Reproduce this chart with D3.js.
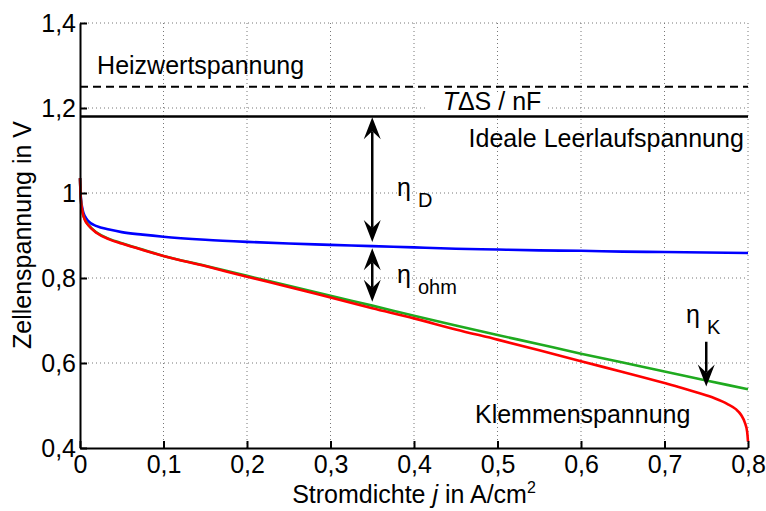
<!DOCTYPE html>
<html>
<head>
<meta charset="utf-8">
<script src="https://cdn.jsdelivr.net/npm/d3@7"></script>
<style>
  body { margin: 0; background: #fff; }
  text { font-family: "Liberation Sans", Arial, Helvetica, sans-serif; }
</style>
</head>
<body>
<script>
// Polarisation curve of a fuel cell

// current density grid (A/cm2) shared by the blue and green curves
var currentDensity = [0, 0.001, 0.003, 0.006, 0.01, 0.02, 0.035, 0.05, 0.075, 0.1, 0.15, 0.2,
    0.25, 0.3, 0.35, 0.4, 0.45, 0.5, 0.55, 0.6, 0.65, 0.7, 0.75, 0.8];

// after activation losses (blue)
var voltageActivation = [1.035, 0.99, 0.962, 0.945, 0.934, 0.922, 0.914, 0.908, 0.902, 0.897, 0.890, 0.885,
    0.881, 0.878, 0.875, 0.872, 0.869, 0.867, 0.865, 0.864, 0.862, 0.861, 0.860, 0.859];

// after ohmic losses (green)
var voltageOhmic = [1.035, 0.985, 0.955, 0.937, 0.925, 0.907, 0.892, 0.882, 0.867, 0.852, 0.829, 0.805,
    0.782, 0.758, 0.735, 0.711, 0.688, 0.666, 0.644, 0.622, 0.601, 0.580, 0.559, 0.538];

// terminal voltage (red), denser near the limiting current
var currentDensityTerminal = [0, 0.001, 0.003, 0.006, 0.01, 0.02, 0.035, 0.05, 0.075, 0.1, 0.15, 0.2,
    0.25, 0.3, 0.35, 0.4, 0.45, 0.5, 0.55, 0.6, 0.65, 0.7, 0.72, 0.74, 0.76, 0.775, 0.785, 0.792, 0.796, 0.799, 0.8];
var voltageTerminal = [1.035, 0.985, 0.955, 0.936, 0.924, 0.906, 0.891, 0.881, 0.866, 0.852, 0.828, 0.803,
    0.779, 0.754, 0.729, 0.705, 0.679, 0.655, 0.630, 0.604, 0.579, 0.553, 0.542, 0.530, 0.517, 0.504, 0.492, 0.477, 0.461, 0.438, 0.415];

// horizontal reference voltages
var heatingValueVoltage = 1.25;
var idealVoltage = 1.18;

// overvoltage arrows
var arrowCurrent = [0.35, 0.35, 0.75];
var arrowTop = [1.178, 0.87, 0.65];
var arrowBottom = [0.885, 0.744, 0.545];
var arrowBothHeads = [true, true, false];

// ticks
var xTicks = [0, 0.1, 0.2, 0.3, 0.4, 0.5, 0.6, 0.7, 0.8];
var xTickLabels = ["0", "0,1", "0,2", "0,3", "0,4", "0,5", "0,6", "0,7", "0,8"];
var yTicks = [0.4, 0.6, 0.8, 1.0, 1.2, 1.4];
var yTickLabels = ["0,4", "0,6", "0,8", "1", "1,2", "1,4"];

//Set size and margins for chart
var svgwidth = 766;
var svgheight = 511;

var margin = {
    top: 23,
    right: 18,
    bottom: 63,
    left: 80
};

var width = svgwidth - margin.left - margin.right;
var height = svgheight - margin.top - margin.bottom;

var svg = d3.select("body")
    .append("svg")
    .attr("width", svgwidth)
    .attr("height", svgheight);

var chartGroup = svg.append("g")
    .attr("transform", `translate(${margin.left}, ${margin.top})`);

//Scales
var xScale = d3.scaleLinear().domain([0, 0.8]).range([0, width]);
var yScale = d3.scaleLinear().domain([0.4, 1.4]).range([height, 0]);

//Dotted grid
chartGroup.append("g")
    .selectAll("line")
    .data(xTicks.slice(1))
    .enter()
    .append("line")
    .attr("x1", d => xScale(d)).attr("x2", d => xScale(d))
    .attr("y1", 0).attr("y2", height)
    .attr("stroke", "#777")
    .attr("stroke-width", 1)
    .attr("stroke-dasharray", "1,3");

chartGroup.append("g")
    .selectAll("line")
    .data(yTicks.slice(1))
    .enter()
    .append("line")
    .attr("x1", 0).attr("x2", width)
    .attr("y1", d => yScale(d)).attr("y2", d => yScale(d))
    .attr("stroke", "#777")
    .attr("stroke-width", 1)
    .attr("stroke-dasharray", "1,3");

//White box behind the T dS / nF label
chartGroup.append("rect")
    .attr("x", 347).attr("y", yScale(1.2) - 13)
    .attr("width", 120).attr("height", 20)
    .attr("fill", "white");

//Reference lines
chartGroup.append("line")
    .attr("x1", 0).attr("x2", width)
    .attr("y1", yScale(heatingValueVoltage)).attr("y2", yScale(heatingValueVoltage))
    .attr("stroke", "black")
    .attr("stroke-width", 2)
    .attr("stroke-dasharray", "8,5");

chartGroup.append("line")
    .attr("x1", 0).attr("x2", width)
    .attr("y1", yScale(idealVoltage)).attr("y2", yScale(idealVoltage))
    .attr("stroke", "black")
    .attr("stroke-width", 2.5);

//Curves
var line = d3.line()
    .x(d => xScale(d[0]))
    .y(d => yScale(d[1]))
    .curve(d3.curveMonotoneX);

var curves = [
    { j: currentDensity, v: voltageActivation, color: "#0000ff" },
    { j: currentDensity, v: voltageOhmic, color: "#1faa1f" },
    { j: currentDensityTerminal, v: voltageTerminal, color: "#ff0000" }
];

curves.forEach(function(c) {
    chartGroup.append("path")
        .datum(d3.zip(c.j, c.v))
        .attr("d", line)
        .attr("fill", "none")
        .attr("stroke", c.color)
        .attr("stroke-width", 2.6);
});

//Axes with inward ticks
var bottomAxis = d3.axisBottom(xScale)
    .tickValues(xTicks)
    .tickFormat((d, i) => xTickLabels[i])
    .tickSizeInner(-7)
    .tickSizeOuter(0)
    .tickPadding(7);

var leftAxis = d3.axisLeft(yScale)
    .tickValues(yTicks)
    .tickFormat((d, i) => yTickLabels[i])
    .tickSizeInner(-7)
    .tickSizeOuter(0)
    .tickPadding(4);

var xAxisGroup = chartGroup.append("g")
    .attr("transform", `translate(0, ${height})`)
    .call(bottomAxis);

var yAxisGroup = chartGroup.append("g")
    .call(leftAxis);

[xAxisGroup, yAxisGroup].forEach(function(g) {
    g.attr("font-family", null).attr("font-size", 25);
    g.selectAll("path, line").attr("stroke", "black").attr("stroke-width", 2);
    g.selectAll("text").attr("fill", "black");
});

//Arrows
function arrowHead(x, y, dir) {
    // dir = 1 points down, -1 points up
    return `M${x},${y} L${x - 8.5},${y - dir * 22} L${x},${y - dir * 14} L${x + 8.5},${y - dir * 22} Z`;
}

arrowCurrent.forEach(function(j, i) {
    var x = xScale(j);
    var y1 = yScale(arrowTop[i]);
    var y2 = yScale(arrowBottom[i]);
    chartGroup.append("line")
        .attr("x1", x).attr("x2", x)
        .attr("y1", arrowBothHeads[i] ? y1 + 14 : y1).attr("y2", y2 - 14)
        .attr("stroke", "black")
        .attr("stroke-width", 2.5);
    chartGroup.append("path")
        .attr("d", arrowHead(x, y2, 1))
        .attr("fill", "black");
    if (arrowBothHeads[i]) {
        chartGroup.append("path")
            .attr("d", arrowHead(x, y1, -1))
            .attr("fill", "black");
    }
});

//Annotations
chartGroup.append("text")
    .attr("x", xScale(0.0205))
    .attr("y", yScale(1.28))
    .attr("font-size", 25)
    .text("Heizwertspannung");

var tds = chartGroup.append("text")
    .attr("x", xScale(0.4934))
    .attr("y", yScale(1.195))
    .attr("font-size", 25)
    .attr("text-anchor", "middle");
tds.append("tspan").attr("font-style", "italic").text("T");
tds.append("tspan").text("ΔS / nF");

chartGroup.append("text")
    .attr("x", xScale(0.795))
    .attr("y", yScale(1.108))
    .attr("font-size", 25)
    .attr("text-anchor", "end")
    .text("Ideale Leerlaufspannung");

chartGroup.append("text")
    .attr("x", xScale(0.473))
    .attr("y", yScale(0.459))
    .attr("font-size", 25)
    .text("Klemmenspannung");

function eta(x, y, sub) {
    chartGroup.append("text")
        .attr("x", x).attr("y", y)
        .attr("font-size", 25)
        .text("η");
    chartGroup.append("text")
        .attr("x", x + 21).attr("y", y + 11)
        .attr("font-size", 20)
        .text(sub);
}
eta(317, 173, "D");
eta(317, 260, "ohm");
eta(606, 300, "K");

//Axis labels
chartGroup.append("text")
    .attr("transform", `translate(${31 - margin.left}, ${(122 + 348) / 2 - margin.top}) rotate(-90)`)
    .attr("text-anchor", "middle")
    .attr("font-size", 25)
    .text("Zellenspannung in V");

var xLabel = chartGroup.append("text")
    .attr("x", width / 2)
    .attr("y", height + 55)
    .attr("text-anchor", "middle")
    .attr("font-size", 25);
xLabel.append("tspan").text("Stromdichte ");
xLabel.append("tspan").attr("font-style", "italic").text("j");
xLabel.append("tspan").text(" in A/cm");
xLabel.append("tspan").attr("font-size", 16).attr("dy", -10).text("2");
</script>
</body>
</html>
